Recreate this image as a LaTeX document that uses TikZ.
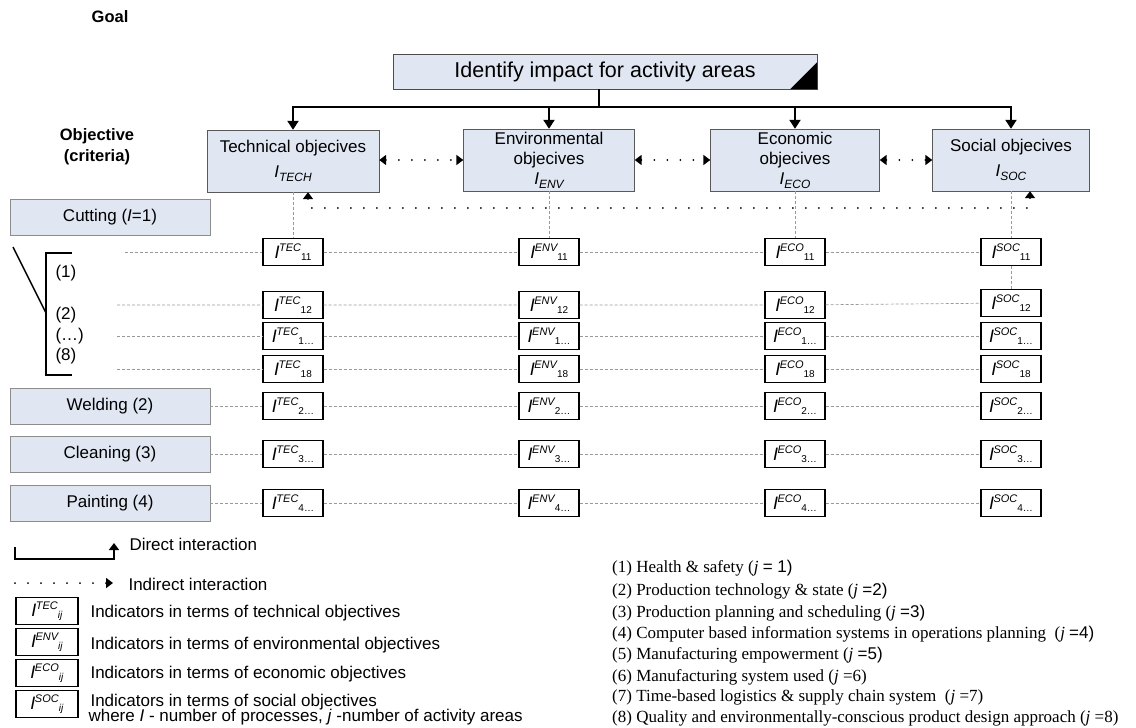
\documentclass[tikz,border=0pt]{standalone}
\usepackage{fontspec}
\setmainfont{Liberation Sans}
\newfontfamily\timesfont{Liberation Serif}
\usetikzlibrary{arrows.meta}
\definecolor{boxblue}{RGB}{224,231,243}

\newcommand{\ind}[2]{\textit{I}\kern-0.5pt\raisebox{7pt}{\fontsize{11}{11}\selectfont\itshape #1}\raisebox{-2pt}{\fontsize{10}{10}\selectfont #2}}
\newcommand{\obj}[1]{\textit{I}\raisebox{-4pt}{\fontsize{12}{12}\selectfont\itshape #1}}

\begin{document}
\begin{tikzpicture}[x=1pt, y=-1pt]
            \tikzstyle{txt}=[font=\fontsize{17}{20}\selectfont]
            \tikzstyle{head}=[font=\bfseries\fontsize{16.5}{21}\selectfont, align=center]
            \tikzstyle{objbox}=[draw=black!65, fill=boxblue, minimum height=62pt, inner sep=1pt, align=center, font=\fontsize{17}{20}\selectfont]
            \tikzstyle{procbox}=[draw=black!45, fill=boxblue, minimum width=200pt, minimum height=36pt, font=\fontsize{17}{20}\selectfont]
            \tikzstyle{indbox}=[draw, line width=1.3pt, fill=white, minimum width=60pt, minimum height=27pt, inner sep=0pt, font=\fontsize{18}{18}\selectfont]
            \tikzstyle{direct}=[line width=2.4pt, -{Triangle[width=11pt,length=9pt]}]
            \tikzstyle{indirect}=[line width=2pt, line cap=round, dash pattern=on 0pt off 13pt]
            \tikzstyle{both}=[{Triangle[width=10pt,length=7pt]}-{Triangle[width=10pt,length=7pt]}]
            \tikzstyle{guide}=[draw=black!40, line width=0.7pt, dash pattern=on 3pt off 2pt]
            \tikzstyle{list}=[anchor=west, inner sep=0pt, font=\timesfont\fontsize{17}{20}\selectfont]

            \useasboundingbox (0,0) rectangle (1136,728);

            % goal and criteria
            \node[head] (goal) at (110,17) {Goal};
            \node[head] (crit) at (97,147) {Objective\\(criteria)};
            \node[draw=black!70, fill=boxblue, minimum width=424pt, minimum height=35pt, font=\fontsize{21.5}{24}\selectfont] (aim) at (605,71.5) {Identify impact for activity areas};
            \fill (aim.south east) -- ++(-27,0) -- ++(27,-27) -- cycle;

            \node[objbox, minimum width=172pt] (tech) at (293,161) {Technical objecives\\[5pt]\obj{TECH}};
            \node[objbox, minimum width=171pt] (env) at (549,160) {Environmental\\objecives\\\obj{ENV}};
            \node[objbox, minimum width=169pt] (eco) at (795,160) {Economic\\objecives\\\obj{ECO}};
            \node[objbox, minimum width=157pt] (soc) at (1011,160) {Social objecives\\[5pt]\obj{SOC}};

            \coordinate (bar) at (599,107);
            \draw[line width=2.4pt] (aim.south -| bar) -- (bar);
            \draw[direct] (bar) -| (tech.north);
            \draw[direct] (bar) -| (env.north);
            \draw[direct] (bar) -| (eco.north);
            \draw[direct] (bar) -| (soc.north);

            \draw[indirect, both] (tech.east |- env) -- (env);
            \draw[indirect, both] (env) -- (eco);
            \draw[indirect, both] (eco) -- (soc);
            \coordinate (dl) at (308,208);
            \coordinate (dr) at (1030,208);
            \draw[indirect, both] (dl |- tech.south) -- (dl) -- (dr) -- (dr |- soc.south);

            % processes
            \node[procbox] (cut) at (110,217) {Cutting (\textit{I}=1)};
            \node[procbox] (weld) at (110,406) {Welding (2)};
            \node[procbox] (clean) at (110,454) {Cleaning (3)};
            \node[procbox] (paint) at (110,503) {Painting (4)};

            \draw[line width=1.4pt] (72,253) -- (46,253) -- (46,375) -- (72,375);
            \draw[line width=1.4pt] (13,247) -- (46,313);
            \node[txt, anchor=west] (j1) at (52,273) {(1)};
            \node[txt, anchor=west] (j2) at (52,315) {(2)};
            \node[txt, anchor=west] (jx) at (52,336) {(\ldots)};
            \node[txt, anchor=west] (j8) at (52,356) {(8)};

            % indicators
            \node[indbox] (tec11) at (293,252) {\ind{TEC}{11}};
            \node[indbox] (tec12) at (293,305) {\ind{TEC}{12}};
            \node[indbox] (tec1x) at (293,336) {\ind{TEC}{1\ldots}};
            \node[indbox] (tec18) at (293,369) {\ind{TEC}{18}};
            \node[indbox] (tec2) at (293,406) {\ind{TEC}{2\ldots}};
            \node[indbox] (tec3) at (293,454) {\ind{TEC}{3\ldots}};
            \node[indbox] (tec4) at (293,503) {\ind{TEC}{4\ldots}};

            \node[indbox] (env11) at (549,252) {\ind{ENV}{11}};
            \node[indbox] (env12) at (549,305) {\ind{ENV}{12}};
            \node[indbox] (env1x) at (549,336) {\ind{ENV}{1\ldots}};
            \node[indbox] (env18) at (549,369) {\ind{ENV}{18}};
            \node[indbox] (env2) at (549,406) {\ind{ENV}{2\ldots}};
            \node[indbox] (env3) at (549,454) {\ind{ENV}{3\ldots}};
            \node[indbox] (env4) at (549,503) {\ind{ENV}{4\ldots}};

            \node[indbox] (eco11) at (795,252) {\ind{ECO}{11}};
            \node[indbox] (eco12) at (795,305) {\ind{ECO}{12}};
            \node[indbox] (eco1x) at (795,336) {\ind{ECO}{1\ldots}};
            \node[indbox] (eco18) at (795,369) {\ind{ECO}{18}};
            \node[indbox] (eco2) at (795,406) {\ind{ECO}{2\ldots}};
            \node[indbox] (eco3) at (795,454) {\ind{ECO}{3\ldots}};
            \node[indbox] (eco4) at (795,503) {\ind{ECO}{4\ldots}};

            \node[indbox] (soc11) at (1011,252) {\ind{SOC}{11}};
            \node[indbox] (soc12) at (1011,303) {\ind{SOC}{12}};
            \node[indbox] (soc1x) at (1011,336) {\ind{SOC}{1\ldots}};
            \node[indbox] (soc18) at (1011,369) {\ind{SOC}{18}};
            \node[indbox] (soc2) at (1011,406) {\ind{SOC}{2\ldots}};
            \node[indbox] (soc3) at (1011,454) {\ind{SOC}{3\ldots}};
            \node[indbox] (soc4) at (1011,503) {\ind{SOC}{4\ldots}};

            \draw[guide] (tech) -- (tec11);
            \draw[guide] (env) -- (env11);
            \draw[guide] (eco) -- (eco11);
            \draw[guide] (soc) -- (soc11) -- (soc12);

            \coordinate (r11) at (125,252);
            \coordinate (r12) at (117,305);
            \coordinate (r1x) at (117,336);
            \coordinate (r18) at (117,369);
            \draw[guide] (r11) -- (tec11) -- (env11) -- (eco11) -- (soc11);
            \draw[guide] (r12) -- (tec12) -- (env12) -- (eco12) -- (soc12);
            \draw[guide] (r1x) -- (tec1x) -- (env1x) -- (eco1x) -- (soc1x);
            \draw[guide] (r18) -- (tec18) -- (env18) -- (eco18) -- (soc18);
            \draw[guide] (weld) -- (tec2) -- (env2) -- (eco2) -- (soc2);
            \draw[guide] (clean) -- (tec3) -- (env3) -- (eco3) -- (soc3);
            \draw[guide] (paint) -- (tec4) -- (env4) -- (eco4) -- (soc4);

            % legend
            \coordinate (da) at (15,547);
            \coordinate (db) at (15,559);
            \coordinate (dc) at (114,559);
            \coordinate (dd) at (114,543);
            \draw[line width=2.2pt, -{Triangle[width=10pt,length=7pt]}] (da) -- (db) -- (dc) -- (dd);
            \node[txt, anchor=west] (dtxt) at (126,544) {Direct interaction};
            \coordinate (ia) at (15,583);
            \coordinate (ib) at (113,583);
            \draw[indirect, -{Triangle[width=10pt,length=7pt]}] (ia) -- (ib);
            \node[txt, anchor=west] (itxt) at (125,584) {Indirect interaction};

            \node[indbox, minimum width=62pt] (ktec) at (47,611) {\ind{TEC}{\textit{ij}}};
            \node[indbox, minimum width=62pt] (kenv) at (47,642) {\ind{ENV}{\textit{ij}}};
            \node[indbox, minimum width=62pt] (keco) at (47,673) {\ind{ECO}{\textit{ij}}};
            \node[indbox, minimum width=62pt] (ksoc) at (47,704) {\ind{SOC}{\textit{ij}}};
            \node[txt, anchor=west] (ttec) at (87,613) {Indicators in terms of technical objectives};
            \node[txt, anchor=west] (tenv) at (87,645) {Indicators in terms of environmental objectives};
            \node[txt, anchor=west] (teco) at (87,674) {Indicators in terms of economic objectives};
            \node[txt, anchor=west] (tsoc) at (87,702) {Indicators in terms of social objectives};
            \node[txt, anchor=west] (where) at (85,717) {where \textit{I} - number of processes, \textit{j} -number of activity areas};

            \node[list] (a1) at (612,568) {(1) Health \& safety (\textit{j} {\rmfamily= 1)}};
            \node[list] (a2) at (612,591) {(2) Production technology \& state (\textit{j} {\rmfamily=2)}};
            \node[list] (a3) at (612,613) {(3) Production planning and scheduling (\textit{j} {\rmfamily=3)}};
            \node[list] (a4) at (612,634) {(4) Computer based information systems in operations planning\ \ (\textit{j} {\rmfamily=4)}};
            \node[list] (a5) at (612,655) {(5) Manufacturing empowerment (\textit{j} {\rmfamily=5)}};
            \node[list] (a6) at (612,677) {(6) Manufacturing system used (\textit{j} =6)};
            \node[list] (a7) at (612,697) {(7) Time-based logistics \& supply chain system\ \ (\textit{j} =7)};
            \node[list] (a8) at (612,718) {(8) Quality and environmentally-conscious product design approach (\textit{j} =8)};
        \end{tikzpicture}
\end{document}
